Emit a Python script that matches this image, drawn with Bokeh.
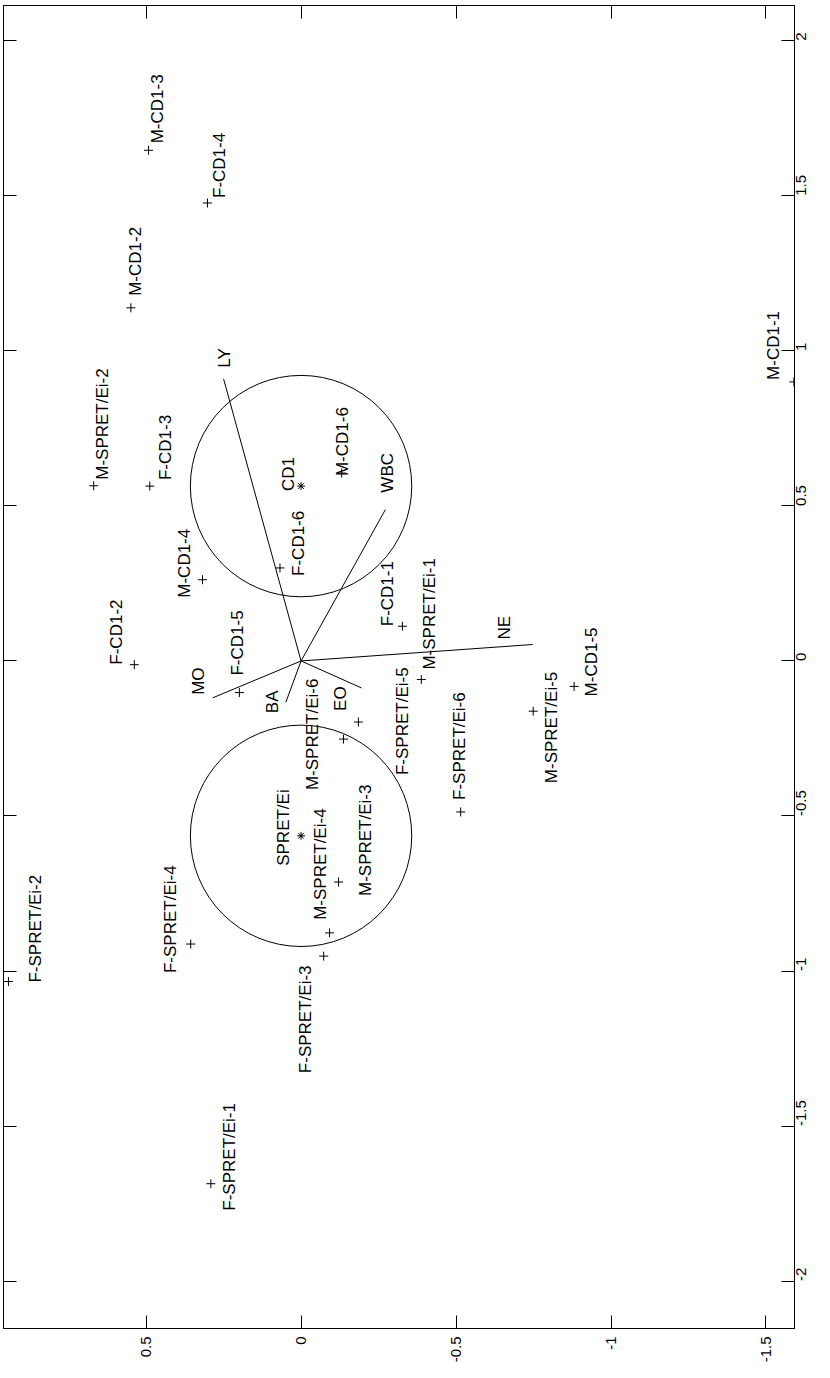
import math
from bokeh.plotting import figure
from bokeh.models import Range1d, LinearAxis, FixedTicker, ColumnDataSource
from bokeh.core.properties import value
from bokeh.embed import file_html
from bokeh.resources import INLINE

# ---- data (scores on the two components) ----
samples = ["M-CD1-1", "M-CD1-2", "M-CD1-3", "M-CD1-4", "M-CD1-5", "M-CD1-6",
           "F-CD1-1", "F-CD1-2", "F-CD1-3", "F-CD1-4", "F-CD1-5", "F-CD1-6",
           "M-SPRET/Ei-1", "M-SPRET/Ei-2", "M-SPRET/Ei-3", "M-SPRET/Ei-4", "M-SPRET/Ei-5", "M-SPRET/Ei-6",
           "F-SPRET/Ei-1", "F-SPRET/Ei-2", "F-SPRET/Ei-3", "F-SPRET/Ei-4", "F-SPRET/Ei-5", "F-SPRET/Ei-6"]
pc1 = [0.90, 1.139, 1.647, 0.262, -0.082, 0.606,
       0.112, -0.012, 0.564, 1.477, -0.102, 0.300,
       -0.060, 0.565, -0.713, -0.877, -0.162, -0.252,
       -1.686, -1.034, -0.952, -0.913, -0.197, -0.487]
pc2 = [-1.59, 0.549, 0.492, 0.318, -0.881, -0.131,
       -0.327, 0.538, 0.488, 0.302, 0.199, 0.068,
       -0.388, 0.669, -0.121, -0.092, -0.749, -0.137,
       0.291, 0.944, -0.073, 0.356, -0.185, -0.515]

groups = ["CD1", "SPRET/Ei"]
group_pc1 = [0.564, -0.564]
group_pc2 = [0.0, 0.0]
group_radius = [0.357, 0.357]

variables = ["WBC", "NE", "LY", "MO", "EO", "BA"]
load_pc1 = [0.488, 0.053, 0.91, -0.119, -0.087, -0.133]
load_pc2 = [-0.272, -0.747, 0.25, 0.285, -0.195, 0.049]

pc1_ticks = [-2, -1.5, -1, -0.5, 0, 0.5, 1, 1.5, 2]
pc1_tick_labels = ["-2", "-1.5", "-1", "-0.5", "0", "0.5", "1", "1.5", "2"]
pc2_ticks = [0.5, 0, -0.5, -1, -1.5]
pc2_tick_labels = ["0.5", "0", "-0.5", "-1", "-1.5"]

# ---- label placement (screen pixel offsets from each point) ----
sample_dx = [-20, 5, 9, -18, 17, 1, -15, -18, 16, 12, -2, 19,
             8, 9, 27, -9, 18, -31, 19, 27, -18, -20, 44, -1]
sample_dy = [-2, -12, -7, 18, 10, 3, 0, 0, -6, -5, -17, 8,
             -10, -6, 14, -13, 72, 51, 27, 1, 117, 29, 53, -12]
group_dx = [-13, -18]
group_dy = [5, 30]
var_dx = [2, -28, 1, -14, -21, -13]
var_dy = [-17, -5, -11, -3, 23, 11]

FONT = "Liberation Sans"
LABEL_SIZE = "17px"
TICK_SIZE = "15px"

p = figure(frame_width=791, frame_height=1323,
           x_range=Range1d(0.960, -1.592), y_range=Range1d(-2.153, 2.114),
           output_backend="svg", toolbar_location=None,
           min_border_left=3, min_border_top=5, min_border_right=0, min_border_bottom=0,
           x_axis_location=None, y_axis_location=None)
p.grid.visible = False
p.outline_line_color = "black"
p.outline_line_width = 1
p.background_fill_color = "white"
p.border_fill_color = "white"


def make_axis(ticks, tick_labels, labels_on, standoff):
    ax = LinearAxis(ticker=FixedTicker(ticks=ticks))
    ax.major_tick_in = 13
    ax.major_tick_out = 0
    ax.minor_tick_line_color = None
    ax.axis_line_color = "black"
    ax.major_tick_line_color = "black"
    if labels_on:
        ax.major_label_overrides = dict(zip(ticks, tick_labels))
        ax.major_label_text_font = FONT
        ax.major_label_text_font_size = TICK_SIZE
        ax.major_label_text_color = "black"
        ax.major_label_orientation = math.pi / 2
        ax.major_label_standoff = standoff
    else:
        ax.major_label_overrides = {t: "" for t in ticks}
        ax.major_label_text_font_size = "0px"
        ax.major_label_standoff = 0
    return ax


p.add_layout(make_axis(pc2_ticks, pc2_tick_labels, True, 8), "below")
p.add_layout(make_axis(pc2_ticks, pc2_tick_labels, False, 0), "above")
p.add_layout(make_axis(pc1_ticks, pc1_tick_labels, True, 7), "right")
p.add_layout(make_axis(pc1_ticks, pc1_tick_labels, False, 0), "left")

# loading vectors
vsrc = ColumnDataSource(dict(x0=[0.0] * len(variables), y0=[0.0] * len(variables),
                             x=load_pc2, y=load_pc1, name=variables, dx=var_dx, dy=var_dy))
p.segment(x0="x0", y0="y0", x1="x", y1="y", source=vsrc, line_color="black", line_width=1)
p.text(x="x", y="y", text="name", source=vsrc, x_offset="dx", y_offset="dy",
       angle=math.pi / 2, text_align="left", text_baseline="middle",
       text_font=value(FONT), text_font_size=value(LABEL_SIZE), text_color="black")

# group circles and centroids
gsrc = ColumnDataSource(dict(x=group_pc2, y=group_pc1, r=group_radius, name=groups,
                             dx=group_dx, dy=group_dy))
p.circle(x="x", y="y", radius="r", radius_dimension="y", source=gsrc,
         fill_color=None, line_color="black", line_width=1)
p.scatter(x="x", y="y", source=gsrc, marker="asterisk", size=8, line_color="black", line_width=1)
p.text(x="x", y="y", text="name", source=gsrc, x_offset="dx", y_offset="dy",
       angle=math.pi / 2, text_align="left", text_baseline="middle",
       text_font=value(FONT), text_font_size=value(LABEL_SIZE), text_color="black")

# samples
ssrc = ColumnDataSource(dict(x=pc2, y=pc1, name=samples, dx=sample_dx, dy=sample_dy))
p.scatter(x="x", y="y", source=ssrc, marker="cross", size=9, line_color="black", line_width=1)
p.text(x="x", y="y", text="name", source=ssrc, x_offset="dx", y_offset="dy",
       angle=math.pi / 2, text_align="left", text_baseline="middle",
       text_font=value(FONT), text_font_size=value(LABEL_SIZE), text_color="black")

open("out.html", "w").write(file_html(p, INLINE))
